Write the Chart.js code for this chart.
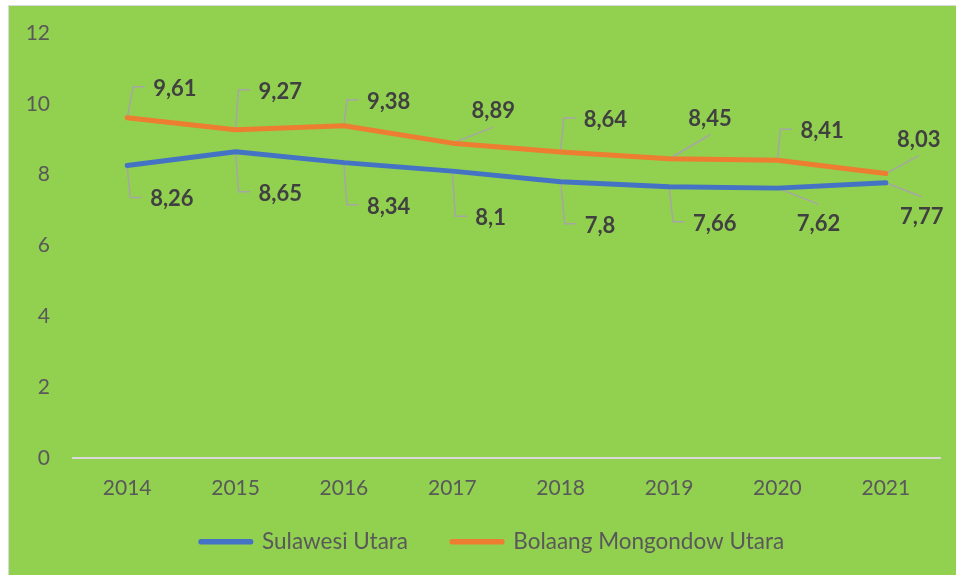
<!DOCTYPE html>
<html>
<head>
<meta charset="utf-8">
<script src="https://cdn.jsdelivr.net/npm/chart.js@4/dist/chart.umd.min.js"></script>
<style>
    html, body { margin: 0; padding: 0; background: #ffffff; }
    #wrap {
        position: absolute;
        left: 8px;
        top: 5px;
        width: 947px;
        height: 569px;
        border-left: 1px solid #d9d9d9;
        border-top: 1px solid #d9d9d9;
        background: #92d050;
    }
    canvas { display: block; }
</style>
</head>
<body>
<div id="wrap"><canvas id="chart"></canvas></div>
<script>
"use strict";

// Data
const years = ['2014', '2015', '2016', '2017', '2018', '2019', '2020', '2021'];
const sulawesiUtara = [8.26, 8.65, 8.34, 8.1, 7.8, 7.66, 7.62, 7.77];
const bolaangMongondowUtara = [9.61, 9.27, 9.38, 8.89, 8.64, 8.45, 8.41, 8.03];
const yMin = 0;
const yMax = 12;
const yStep = 2;

// Etiketternas placering i förhållande till punkten: [typ, dx, dy]
// 'b' = hake-linje (dx = textens vänsterkant), 'd' = diagonal linje (dx = textens mitt)
const labelOffsets = [
    [['b', 23, 33], ['b', 23, 41], ['b', 23, 43], ['b', 23, 46], ['b', 24, 43], ['b', 24, 36], ['d', 41, 35], ['d', 36, 33]],
    [['b', 26, -30], ['b', 23, -39], ['b', 23, -25], ['d', 41, -33], ['b', 23, -33], ['d', 41, -41], ['b', 23, -30], ['d', 33, -35]]
];

// Eget plugin för dataetiketter med hänvisningslinjer
const leaderLabels = {
    id: 'leaderLabels',
    beforeDatasetsDraw(chart, args, opts) {
        const ctx = chart.ctx;
        ctx.save();
        ctx.strokeStyle = opts.lineColor;
        ctx.lineWidth = 1.5;
        chart.data.datasets.forEach((ds, i) => {
            chart.getDatasetMeta(i).data.forEach((pt, j) => {
                const [type, dx, dy] = opts.offsets[i][j];
                const cy = pt.y + dy;
                ctx.beginPath();
                ctx.moveTo(pt.x, pt.y);
                if (type === 'b') {
                    const left = pt.x + dx;
                    ctx.lineTo(left - 20, cy - 1);
                    ctx.lineTo(left - 8.5, cy - 1);
                } else {
                    const end = dy < 0 ? cy + 17 : cy - 19;
                    ctx.lineTo(pt.x + dx, end);
                }
                ctx.stroke();
            });
        });
        ctx.restore();
    },
    afterDatasetsDraw(chart, args, opts) {
        const ctx = chart.ctx;
        ctx.save();
        ctx.fillStyle = opts.color;
        ctx.font = opts.font;
        ctx.textBaseline = 'alphabetic';
        chart.data.datasets.forEach((ds, i) => {
            chart.getDatasetMeta(i).data.forEach((pt, j) => {
                const [type, dx, dy] = opts.offsets[i][j];
                const text = String(ds.data[j]).replace('.', ',');
                ctx.textAlign = type === 'b' ? 'left' : 'center';
                ctx.fillText(text, pt.x + dx, pt.y + dy + 8);
            });
        });
        ctx.restore();
    }
};

// Flytta förklaringen lite (Excel centrerar den annorlunda)
const legendShift = {
    id: 'legendShift',
    afterLayout(chart, args, opts) {
        const l = chart.legend;
        l.top = opts.top;
        l.bottom = chart.height;
        l.height = l.bottom - l.top;
        l.left += opts.dx;
        l.right += opts.dx;
    }
};

function init() {
    Chart.defaults.font.family = 'Lato';
    Chart.defaults.color = '#595959';

    const ctx = document.getElementById('chart');

    new Chart(ctx, {
        type: 'line',
        data: {
            labels: years,
            datasets: [{
                label: 'Sulawesi Utara',
                data: sulawesiUtara,
                borderColor: '#4472c4',
                backgroundColor: '#4472c4',
                borderWidth: 5,
                borderCapStyle: 'round',
                borderJoinStyle: 'round',
                pointRadius: 0,
                tension: 0
            }, {
                label: 'Bolaang Mongondow Utara',
                data: bolaangMongondowUtara,
                borderColor: '#ed7d31',
                backgroundColor: '#ed7d31',
                borderWidth: 5,
                borderCapStyle: 'round',
                borderJoinStyle: 'round',
                pointRadius: 0,
                tension: 0
            }]
        },
        options: {
            responsive: true,
            maintainAspectRatio: false,
            animation: false,
            layout: {
                padding: { top: 27, right: 16, left: 0, bottom: 7 }
            },
            plugins: {
                legend: {
                    position: 'bottom',
                    maxHeight: 60,
                    labels: {
                        boxWidth: 50,
                        boxHeight: 0.5,
                        padding: 44,
                        color: '#595959',
                        font: { size: 22.5 }
                    }
                },
                tooltip: { enabled: false },
                legendShift: { top: 480.5, dx: 18 },
                leaderLabels: {
                    offsets: labelOffsets,
                    color: '#404040',
                    lineColor: '#a6a6a6',
                    font: 'bold 22px Lato'
                }
            },
            scales: {
                x: {
                    offset: true,
                    grid: { display: false, drawTicks: false },
                    border: { display: true, color: '#d9d9d9', width: 2 },
                    ticks: { padding: 18, font: { size: 21 }, color: '#595959' },
                    afterFit: (s) => { s.height = 50; }
                },
                y: {
                    min: yMin,
                    max: yMax,
                    grid: { display: false, drawTicks: true, tickLength: 23 },
                    border: { display: false },
                    ticks: { stepSize: yStep, padding: 0, font: { size: 21 }, color: '#595959' },
                    afterFit: (s) => { s.width = 64; }
                }
            }
        },
        plugins: [leaderLabels, legendShift]
    });
}

document.fonts.load('22px Lato').then(init, init);
</script>
</body>
</html>
